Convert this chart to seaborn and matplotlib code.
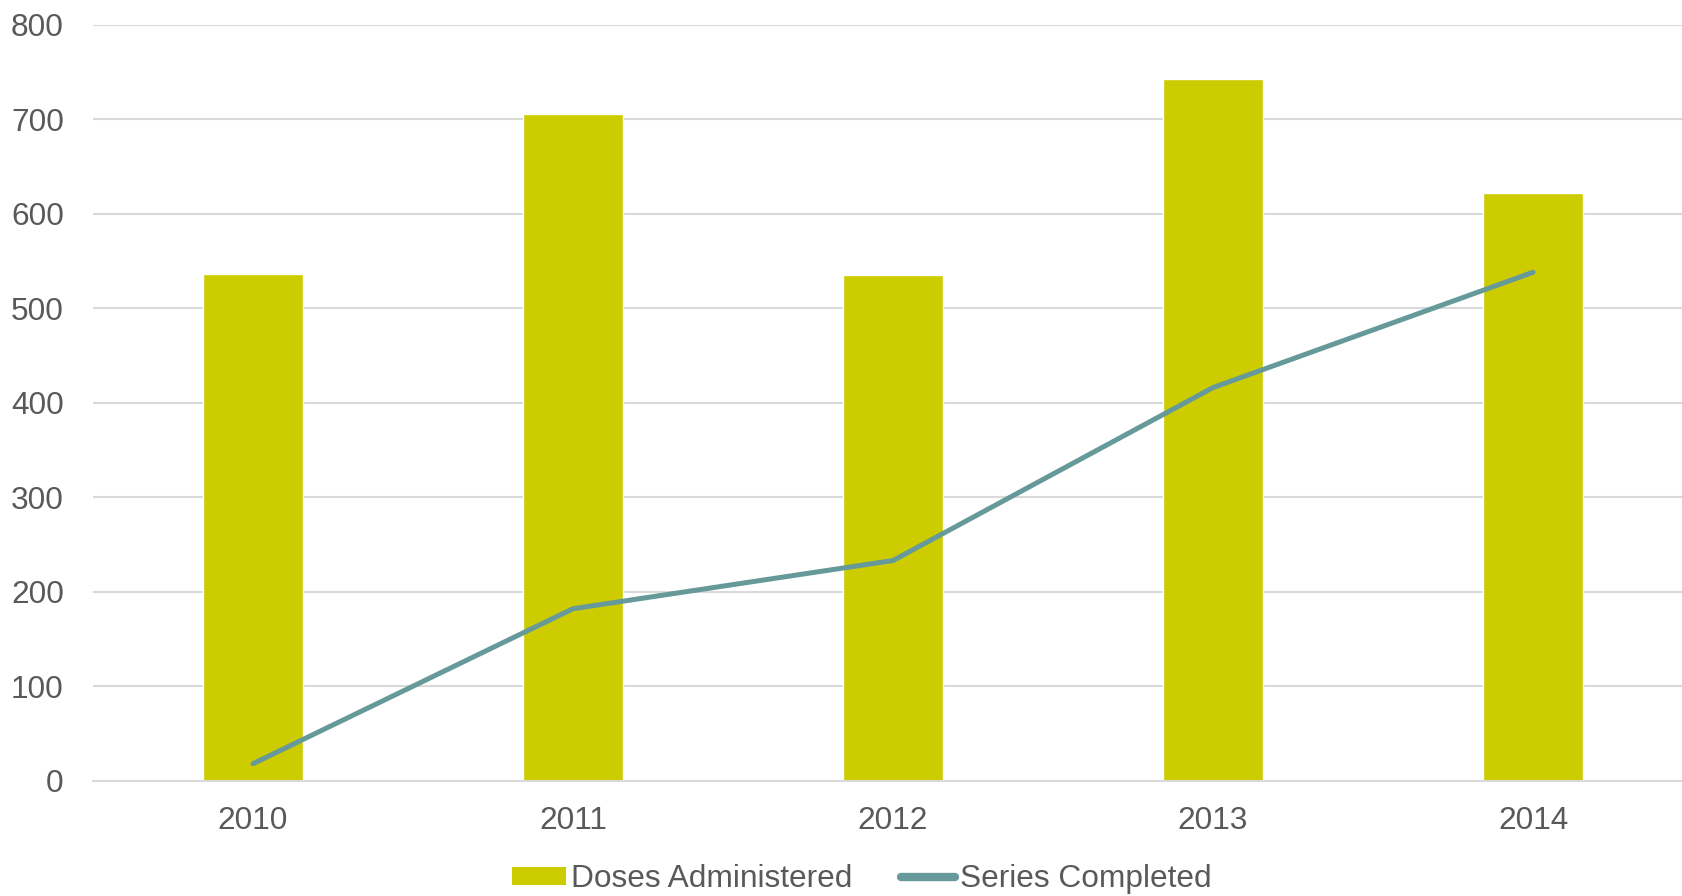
import matplotlib
matplotlib.use("Agg")
import matplotlib.pyplot as plt
import seaborn as sns
import pandas as pd
from matplotlib.patches import Patch
from matplotlib.lines import Line2D

years = ["2010", "2011", "2012", "2013", "2014"]
doses_administered = [536, 706, 535, 743, 622]
series_completed = [18, 182, 233, 416, 538]
y_ticks = [0, 100, 200, 300, 400, 500, 600, 700, 800]

BAR_COLOR = "#CCCC00"
LINE_COLOR = "#669999"
TEXT_COLOR = "#595959"
GRID_COLOR = "#D9D9D9"
FS = 22.8

sns.set_theme(style="white")
plt.rcParams["font.family"] = ["Liberation Sans", "DejaVu Sans"]

df = pd.DataFrame({"year": years, "doses": doses_administered, "series": series_completed})

W, H = 1682, 896
fig = plt.figure(figsize=(W / 100, H / 100), dpi=100)
left, right = 93 / W, 1693 / W
bottom, top = 1 - 780.7 / H, 1 - 24.7 / H
ax = fig.add_axes([left, bottom, right - left, top - bottom])

sns.barplot(data=df, x="year", y="doses", color=BAR_COLOR, width=0.315,
            saturation=1, ax=ax, zorder=2)
sns.pointplot(data=df, x="year", y="series", color=LINE_COLOR, markers="",
              errorbar=None, linewidth=3.6, ax=ax, zorder=3)
for ln in ax.lines:
    ln.set_linewidth(3.6)
    ln.set_solid_capstyle("round")
    ln.set_solid_joinstyle("round")

ax.set_xlim(-0.5, 4.5)
ax.set_ylim(0, 800)
ax.set_yticks(y_ticks)
ax.set_yticklabels([str(v) for v in y_ticks])
ax.set_xlabel("")
ax.set_ylabel("")
ax.yaxis.grid(True, color=GRID_COLOR, linewidth=1.5, zorder=0)
ax.xaxis.grid(False)
ax.set_axisbelow(True)
for s in ["top", "right", "left"]:
    ax.spines[s].set_visible(False)
ax.spines["bottom"].set_color(GRID_COLOR)
ax.spines["bottom"].set_linewidth(1.5)
ax.tick_params(axis="both", length=0, labelsize=FS, labelcolor=TEXT_COLOR)
ax.tick_params(axis="y", pad=21)
ax.tick_params(axis="x", pad=18.5)

handles = [Patch(facecolor=BAR_COLOR, edgecolor="none"),
           Line2D([0], [0], color=LINE_COLOR, linewidth=6, solid_capstyle="round")]
leg = fig.legend(handles, ["Doses Administered", "Series Completed"],
                 loc="center", bbox_to_anchor=(862 / W, 1 - 879 / H), ncol=2,
                 frameon=False, fontsize=FS, handlelength=1.7, handleheight=0.5,
                 handletextpad=0.15, columnspacing=1.55, borderpad=0, borderaxespad=0)
for t in leg.get_texts():
    t.set_color(TEXT_COLOR)

fig.savefig("out.png", dpi=100)
